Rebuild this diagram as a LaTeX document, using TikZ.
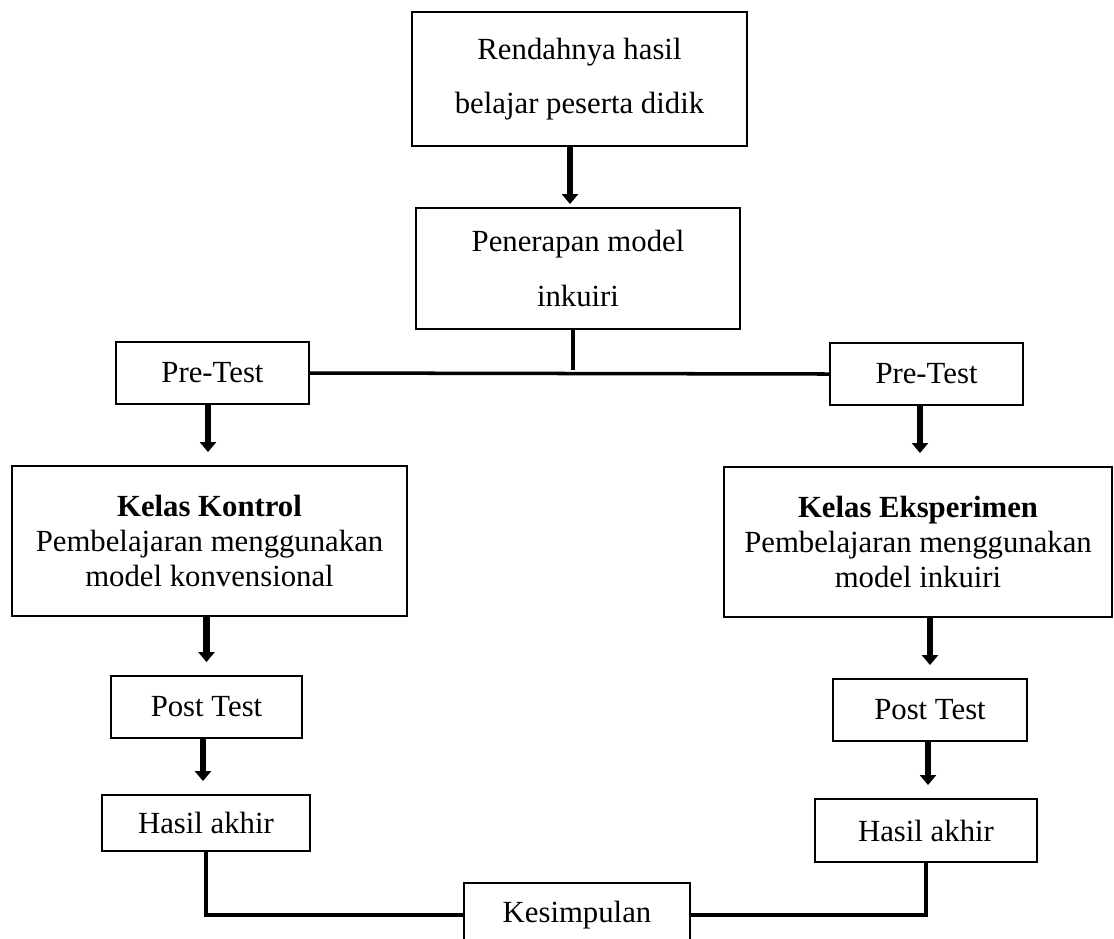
\documentclass[tikz,border=0pt]{standalone}
\usepackage{fontspec}
\setmainfont{Liberation Serif}
\usetikzlibrary{arrows.meta}

\begin{document}
\begin{tikzpicture}[x=0.02cm,y=-0.02cm,
		box/.style={draw,line width=1.1pt,align=center,inner sep=0pt,font=\fontsize{17.5}{31}\selectfont},
		kelas/.style={box,font=\fontsize{17.5}{20}\selectfont},
		arr/.style={-{Triangle[width=0.32cm,length=0.2cm]},line width=3.8pt,shorten >=0.26cm},
		conn/.style={line width=2pt}]
		\clip(0,0) rectangle (1114,938);
		%%%%%%%%%%%%%%%%%%%%% M A S A L A H %%%%%%%%%%%%%%%%%%%%%
		\node[box,minimum width=6.7cm,minimum height=2.68cm] (masalah) at (579.5,79) {Rendahnya hasil\\belajar peserta didik};
		\node[box,minimum width=6.48cm,minimum height=2.42cm] (model) at (578,268.5) {Penerapan model\\inkuiri};
		\draw [arr,shorten >=0.06cm] ([xshift=-0.19cm]masalah.south) -- ([xshift=-0.19cm]masalah.south |- model.north);
		
		%%%% PRE-TEST
		\node[box,minimum width=3.86cm,minimum height=1.24cm] (preKon) at (212.5,373) {Pre-Test};
		\node[box,minimum width=3.86cm,minimum height=1.24cm] (preEks) at (926.5,374) {Pre-Test};
		\coordinate (simpul) at (573,370);
		\draw [conn] (model.south -| simpul) -- (simpul);
		\draw [conn] (preKon.east) -- (preEks.west);
		
		%%%% KELAS
		\node[kelas,minimum width=7.9cm,minimum height=3cm] (kontrol) at (209.5,541) {\textbf{Kelas Kontrol}\\Pembelajaran menggunakan\\model konvensional};
		\node[kelas,minimum width=7.76cm,minimum height=3cm] (eksperimen) at (918,542) {\textbf{Kelas Eksperimen}\\Pembelajaran menggunakan\\model inkuiri};
		\draw [arr] ([xshift=-0.09cm]preKon.south) -- ([xshift=-0.09cm]preKon.south |- kontrol.north);
		\draw [arr] ([xshift=-0.13cm]preEks.south) -- ([xshift=-0.13cm]preEks.south |- eksperimen.north);
		
		%%%% POST TEST
		\node[box,minimum width=3.82cm,minimum height=1.24cm] (postKon) at (206.5,707) {Post Test};
		\node[box,minimum width=3.88cm,minimum height=1.24cm] (postEks) at (930,710) {Post Test};
		\draw [arr] (postKon.north |- kontrol.south) -- (postKon.north);
		\draw [arr] (postEks.north |- eksperimen.south) -- (postEks.north);
		
		%%%% HASIL
		\node[box,minimum width=4.16cm,minimum height=1.12cm] (hasilKon) at (206,823) {Hasil akhir};
		\node[box,minimum width=4.44cm,minimum height=1.26cm] (hasilEks) at (926,830.5) {Hasil akhir};
		\draw [arr] ([xshift=-0.07cm]postKon.south) -- ([xshift=-0.07cm]postKon.south |- hasilKon.north);
		\draw [arr] ([xshift=-0.04cm]postEks.south) -- ([xshift=-0.04cm]postEks.south |- hasilEks.north);
		
		%%%% KESIMPULAN
		\node[box,minimum width=4.52cm,minimum height=1.28cm] (simpulan) at (577,915) {Kesimpulan};
		\draw [conn] (hasilKon.south) |- (simpulan.west);
		\draw [conn] (hasilEks.south) |- (simpulan.east);
	\end{tikzpicture}
\end{document}
